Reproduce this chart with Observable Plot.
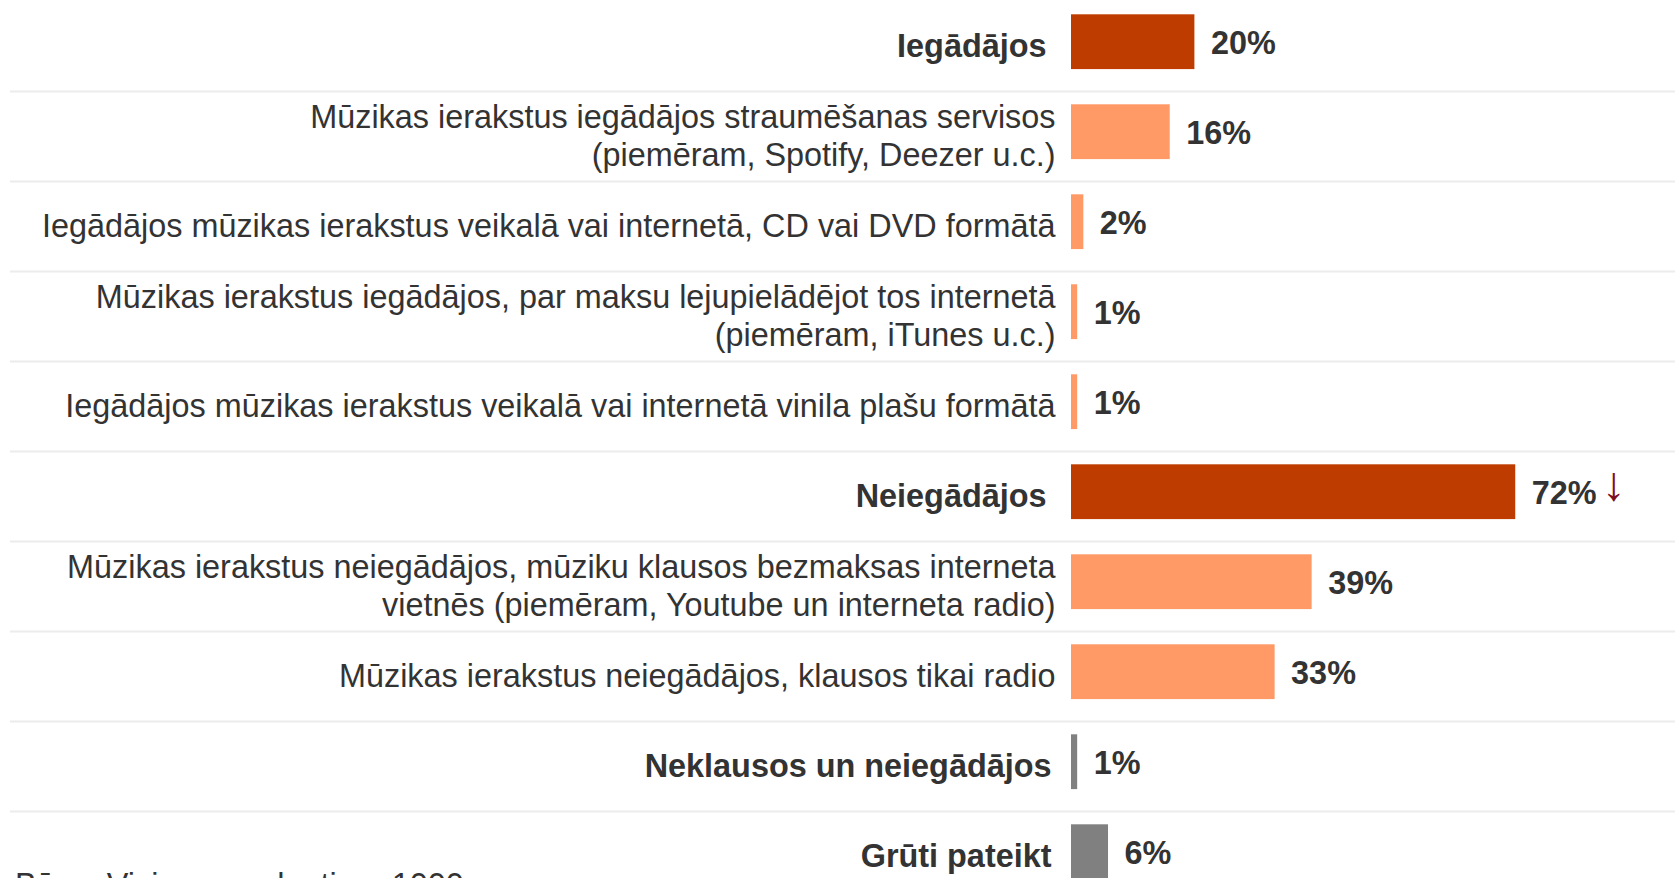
<!DOCTYPE html>
<html>
<head>
<meta charset="utf-8">
<script src="https://cdn.jsdelivr.net/npm/d3@7"></script>
<script src="https://cdn.jsdelivr.net/npm/@observablehq/plot@0.6"></script>
<style>
  html, body { margin: 0; padding: 0; background: #fff; overflow: hidden; }
  #wrap { position: relative; width: 1675px; height: 878px; }
  #caption { position: absolute; left: 15px; top: 869px; font: 32.4px "Liberation Sans", Arial, sans-serif; line-height: 32px; color: #333; white-space: nowrap; }
</style>
</head>
<body>
<div id="wrap">
  <div id="chart"></div>
  <div id="caption">Bāze: Visi respondenti, n=1000</div>
</div>
<script>
// ---- data ----
const labels = [
  "Iegādājos",
  "Mūzikas ierakstus iegādājos straumēšanas servisos\n(piemēram, Spotify, Deezer u.c.)",
  "Iegādājos mūzikas ierakstus veikalā vai internetā, CD vai DVD formātā",
  "Mūzikas ierakstus iegādājos, par maksu lejupielādējot tos internetā\n(piemēram, iTunes u.c.)",
  "Iegādājos mūzikas ierakstus veikalā vai internetā vinila plašu formātā",
  "Neiegādājos",
  "Mūzikas ierakstus neiegādājos, mūziku klausos bezmaksas interneta\nvietnēs (piemēram, Youtube un interneta radio)",
  "Mūzikas ierakstus neiegādājos, klausos tikai radio",
  "Neklausos un neiegādājos",
  "Grūti pateikt"
];
const values = [20, 16, 2, 1, 1, 72, 39, 33, 1, 6];
const kinds = ["group", "item", "item", "item", "item", "group", "item", "item", "other", "other"];
const trends = [null, null, null, null, null, "↓", null, null, null, null];
const kindDomain = ["group", "item", "other"];
const kindColors = ["#bf3c00", "#ff9966", "#808080"];

const rows = labels.map((label, i) => ({
  label, value: values[i], kind: kinds[i], trend: trends[i]
}));

const FONT = '"Liberation Sans", Arial, sans-serif';
const FS = 32.4;

const chart = Plot.plot({
  width: 1675,
  height: 902,
  marginTop: 0,
  marginBottom: 0,
  marginLeft: 10,
  marginRight: 0,
  style: { fontFamily: FONT, background: "#fff", overflow: "visible" },
  x: { domain: [0, 100], range: [1071, 1688], axis: null },
  y: { type: "band", domain: labels, padding: 0, axis: null },
  color: { type: "ordinal", domain: kindDomain, range: kindColors },
  marks: [
    // row separators
    Plot.ruleY(rows.slice(0, -1), { y: "label", dy: 45.1, stroke: "#ececec", strokeWidth: 2 }),
    // bars
    Plot.barX(rows, { x: "value", y: "label", fill: "kind", insetTop: 13.3, insetBottom: 21.9 }),
    // category labels
    Plot.text(rows.filter(d => d.kind === "item"), {
      x: 0, y: "label", text: "label", textAnchor: "end", dx: -16, dy: -2,
      fontSize: FS, lineHeight: 1.2, fill: "#333"
    }),
    Plot.text(rows.filter(d => d.kind === "group"), {
      x: 0, y: "label", text: "label", textAnchor: "end", dx: -25,
      fontSize: FS, fontWeight: "bold", fill: "#333"
    }),
    Plot.text(rows.filter(d => d.kind === "other"), {
      x: 0, y: "label", text: "label", textAnchor: "end", dx: -20,
      fontSize: FS, fontWeight: "bold", fill: "#333"
    }),
    // value labels
    Plot.text(rows, {
      x: "value", y: "label", text: d => d.value + "%", textAnchor: "start",
      dx: 16, dy: -3, fontSize: FS, fontWeight: "bold", fill: "#333"
    }),
    // trend arrows
    Plot.text(rows.filter(d => d.trend), {
      x: "value", y: "label", text: "trend", textAnchor: "start",
      dx: 86, dy: -12, fontSize: 48, fill: "#7d0f1f"
    })
  ]
});
document.getElementById("chart").appendChild(chart);
</script>
</body>
</html>
